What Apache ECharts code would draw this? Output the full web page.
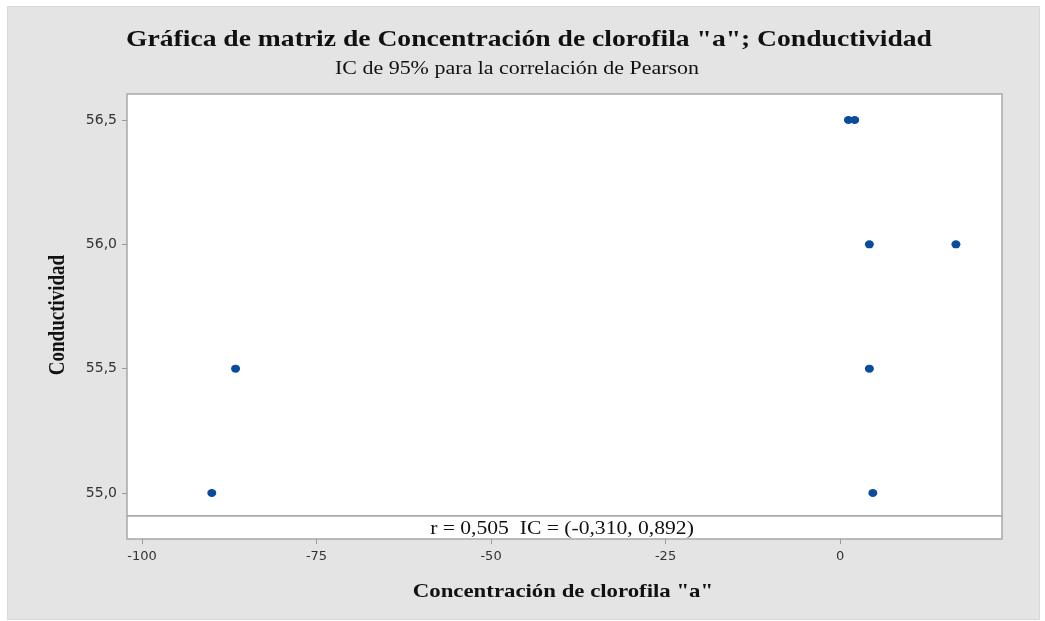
<!DOCTYPE html>
<html>
<head>
<meta charset="utf-8">
<script src="https://cdn.jsdelivr.net/npm/echarts@6/dist/echarts.min.js"></script>
<style>
  html, body { margin: 0; padding: 0; background: #ffffff; }
  #chart { width: 1045px; height: 621px; }
</style>
</head>
<body>
<div id="chart"></div>
<script>
// Concentración de clorofila "a" vs Conductividad
const clorofila = [-90, -86.6, 1.2, 2.1, 4.2, 16.6, 4.2, 4.7];
const conductividad = [55.0, 55.5, 56.5, 56.5, 56.0, 56.0, 55.5, 55.0];
const xTicks = [-100, -75, -50, -25, 0];
const yTicks = [55.0, 55.5, 56.0, 56.5];
const pearsonR = '0,505';
const icBounds = ['-0,310', '0,892'];

const points = clorofila.map((x, i) => [x, conductividad[i]]);

const X_MIN = -102.15, X_MAX = 23.2;
const Y_MIN = 54.9077, Y_MAX = 56.6045;

const serif = '"Liberation Serif", "DejaVu Serif", serif';
const sans = '"DejaVu Sans", "Noto Sans", sans-serif';
const comma = v => v.toFixed(1).replace('.', ',');
const WIDEN = 1.2; // text is drawn slightly wide

// centred text helper for the headings and labels drawn as graphics
function label(text, x, y, size, bold, sx) {
  return {
    type: 'text', silent: true, x: x, y: y, scaleX: sx || WIDEN,
    style: {
      text: text, fontFamily: serif, fontWeight: bold ? 'bold' : 'normal',
      fontSize: size, fill: '#111', align: 'center', verticalAlign: 'middle'
    }
  };
}

const chart = echarts.init(document.getElementById('chart'), null, { renderer: 'canvas' });

chart.setOption({
  backgroundColor: '#ffffff',
  animation: false,
  graphic: [
    {
      type: 'rect', z: -10, silent: true,
      shape: { x: 7.5, y: 6.5, width: 1032, height: 613 },
      style: { fill: '#e4e4e4', stroke: '#d8d8d8', lineWidth: 1 }
    },
    label('Gráfica de matriz de Concentración de clorofila "a"; Conductividad', 529, 40, 23, true),
    label('IC de 95% para la correlación de Pearson', 517, 69, 18, false, 1.22),
    label('r = ' + pearsonR + '  IC = (' + icBounds[0] + ', ' + icBounds[1] + ')', 562, 529, 18, false),
    label('Concentración de clorofila "a"', 563, 592, 19, true),
    {
      type: 'text', silent: true,
      x: 58, y: 315, rotation: Math.PI / 2, scaleY: WIDEN,
      style: {
        text: 'Conductividad', fontFamily: serif, fontWeight: 'bold', fontSize: 19,
        fill: '#111', align: 'center', verticalAlign: 'middle'
      }
    }
  ],
  grid: [
    { left: 127, right: 43, top: 94, bottom: 105, show: true,
      backgroundColor: '#ffffff', borderColor: '#a8a8a8', borderWidth: 1.5 },
    { left: 127, right: 43, top: 516, bottom: 82, show: true,
      backgroundColor: '#ffffff', borderColor: '#a8a8a8', borderWidth: 1.5 }
  ],
  xAxis: [
    { gridIndex: 0, type: 'value', min: X_MIN, max: X_MAX,
      axisLine: { show: false, onZero: false }, axisTick: { show: false },
      axisLabel: { show: false }, splitLine: { show: false } },
    { gridIndex: 1, type: 'value', min: X_MIN, max: X_MAX,
      axisLine: { show: false, onZero: false },
      axisTick: { show: true, length: 5, customValues: xTicks, lineStyle: { color: '#9a9a9a' } },
      axisLabel: { customValues: xTicks, margin: 11, fontFamily: sans, fontSize: 13, color: '#333' },
      splitLine: { show: false } }
  ],
  yAxis: [
    { gridIndex: 0, type: 'value', min: Y_MIN, max: Y_MAX,
      axisLine: { show: false, onZero: false },
      axisTick: { show: true, length: 5, customValues: yTicks, lineStyle: { color: '#9a9a9a' } },
      axisLabel: { customValues: yTicks, margin: 10, formatter: comma,
        fontFamily: sans, fontSize: 14, color: '#333' },
      splitLine: { show: false } },
    { gridIndex: 1, type: 'value', min: 0, max: 1,
      axisLine: { show: false, onZero: false }, axisTick: { show: false },
      axisLabel: { show: false }, splitLine: { show: false } }
  ],
  series: [
    {
      type: 'scatter', xAxisIndex: 0, yAxisIndex: 0,
      data: points, symbol: 'circle', symbolSize: [9, 8],
      itemStyle: { color: '#0b4b9b', opacity: 1 }
    }
  ]
});
</script>
</body>
</html>
